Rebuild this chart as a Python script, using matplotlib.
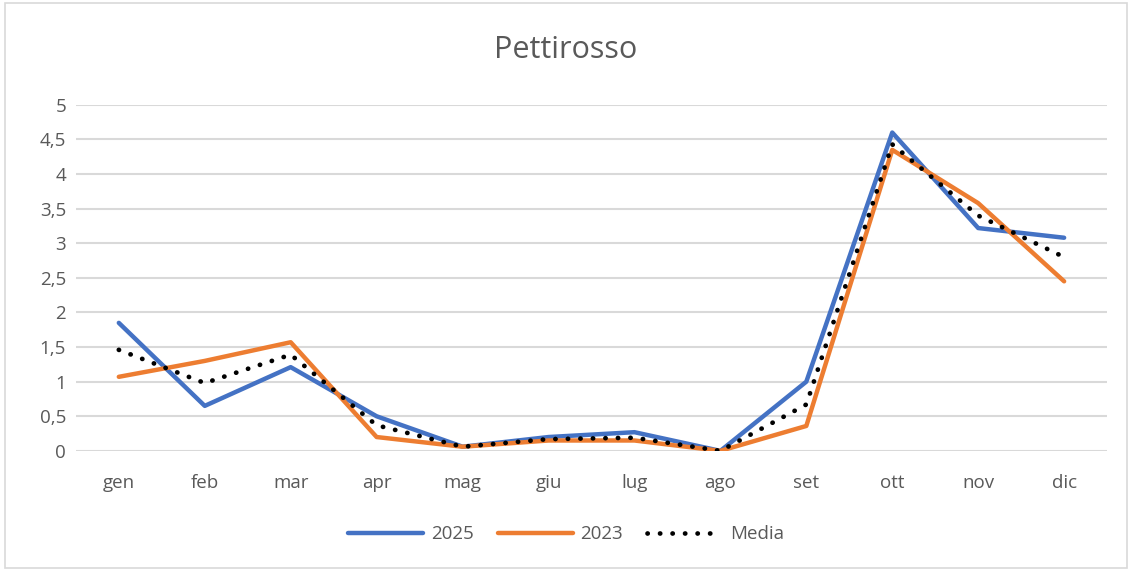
import matplotlib
matplotlib.use("Agg")
import matplotlib.pyplot as plt
from matplotlib.patches import Rectangle

months = ["gen", "feb", "mar", "apr", "mag", "giu", "lug", "ago", "set", "ott", "nov", "dic"]
s2025 = [1.85, 0.65, 1.21, 0.50, 0.06, 0.20, 0.27, 0.00, 1.00, 4.60, 3.22, 3.08]
s2023 = [1.07, 1.30, 1.57, 0.20, 0.06, 0.15, 0.15, 0.00, 0.36, 4.35, 3.58, 2.45]
media = [1.46, 0.98, 1.39, 0.37, 0.06, 0.17, 0.19, 0.00, 0.67, 4.43, 3.40, 2.80]
yticks = [0, 0.5, 1, 1.5, 2, 2.5, 3, 3.5, 4, 4.5, 5]
ytick_labels = ["0", "0,5", "1", "1,5", "2", "2,5", "3", "3,5", "4", "4,5", "5"]

plt.rcParams['font.family'] = ['Open Sans', 'DejaVu Sans']
fig = plt.figure(figsize=(11.32, 5.7), dpi=100)
ax = fig.add_axes([0.067, 0.209, 0.911, 0.607])

x = list(range(len(months)))
ax.plot(x, s2025, color="#4472C4", lw=3.2, label="2025", solid_capstyle="round", zorder=3)
ax.plot(x, s2023, color="#ED7D31", lw=3.2, label="2023", solid_capstyle="round", zorder=3)
ax.plot(x, media, color="black", lw=3.4, linestyle=(0, (0.05, 2.6)), dash_capstyle="round",
        label="Media", zorder=4)

ax.set_xlim(-0.5, 11.5)
ax.set_ylim(0, 5)
ax.set_yticks(yticks)
ax.set_yticklabels(ytick_labels)
ax.set_xticks(x)
ax.set_xticklabels(months)
ax.grid(axis="y", color="#d9d9d9", lw=1.5)
ax.set_axisbelow(True)
for s in ax.spines.values():
    s.set_visible(False)
ax.tick_params(length=0, colors="#595959", labelsize=13.5)
ax.tick_params(axis="x", pad=17)
ax.tick_params(axis="y", pad=7)

fig.text(0.5, 0.912, "Pettirosso", ha="center", va="center", fontsize=22, color="#595959")
leg = fig.legend(loc="center", bbox_to_anchor=(0.5, 0.063), ncol=3, frameon=False,
                 fontsize=13.5, handlelength=4.0, columnspacing=1.3, handletextpad=0.4)
for t in leg.get_texts():
    t.set_color("#595959")

fig.patches.append(Rectangle((0.004, 0.004), 0.992, 0.99, transform=fig.transFigure,
                             fill=False, edgecolor="#d9d9d9", lw=1.2))
fig.savefig("out.png", dpi=100, facecolor="white")
